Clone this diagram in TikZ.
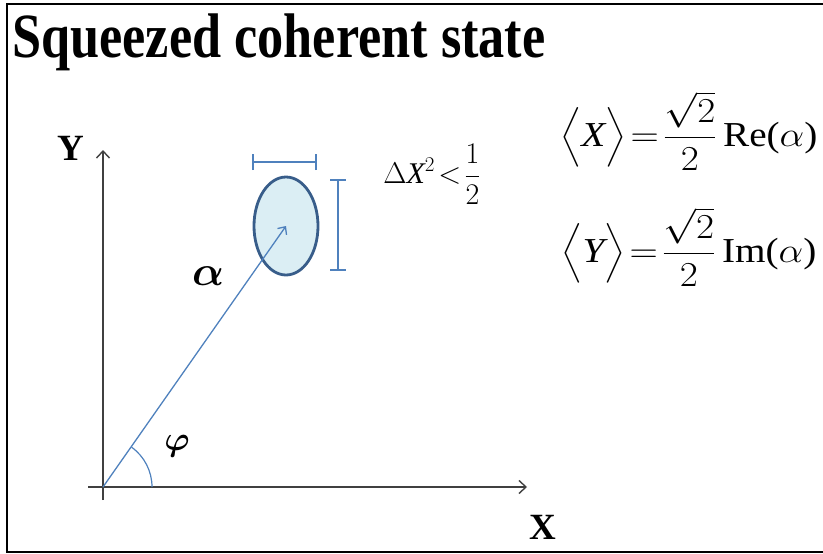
\documentclass[tikz,border=0pt]{standalone}
\usepackage{fix-cm}
\usepackage{fontspec}
\usepackage{amsmath}
\usepackage{bm}
\usepackage{graphicx}
\setmainfont{Liberation Serif}
\usetikzlibrary{arrows.meta,shapes.geometric}

\begin{document}
\begin{tikzpicture}[x=1pt, y=-1pt,
  % ---- colours ---------------------------------------------------------
  /utils/exec={%
    \definecolor{axgrey}  {RGB}{ 64, 64, 64}%
    \definecolor{vecblue} {RGB}{ 79,129,189}%
    \definecolor{ringblue}{RGB}{ 56, 93,138}%
    \definecolor{fogblue} {RGB}{219,238,244}%
  },
  % ---- styles ----------------------------------------------------------
  axis/.style={draw=axgrey, line width=1.4pt, -{Straight Barb[length=7pt,width=13pt]}},
  vec/.style={draw=vecblue, line width=1.3pt, -{Straight Barb[length=6pt,width=11pt]}},
  bar/.style={draw=vecblue, line width=1.2pt},
  axlbl/.style={font=\fontsize{37}{40}\selectfont\bfseries, inner sep=0pt},
  sym/.style={font=\fontsize{42}{46}\selectfont, inner sep=0pt},
  eqn/.style={font=\fontsize{35}{38}\selectfont, inner sep=0pt},
]
\useasboundingbox (0,0) rectangle (823,554);

% frame (open on the right)
\draw[line width=2.6pt] (823,4) -- (7,4) -- (7,552) -- (823,552);

% title
\node[anchor=base west, inner sep=0pt] (title) at (12,57)
  {\scalebox{0.83}[1]{\fontsize{63}{66}\selectfont\bfseries Squeezed coherent state}};

% =====================================================================
%  AXES
% =====================================================================
\coordinate (o) at (103,487);
\coordinate (xstart) at (88,487);
\coordinate (xend) at (527,487);
\coordinate (ystart) at (103,500);
\coordinate (yend) at (103,150);
\draw[axis] (xstart) -- (xend);
\draw[axis] (ystart) -- (yend);
\node[axlbl] (xlbl) at (543,527) {X};
\node[axlbl] (ylbl) at (71,148) {Y};

% =====================================================================
%  STATE
% =====================================================================
\node[ellipse, draw=ringblue, fill=fogblue, line width=2.8pt,
      minimum width=64pt, minimum height=98pt, inner sep=0pt] (blob) at (286,226) {};
\draw[vec] (o) -- (blob.center);
\node[sym] (alpha) at (208,276) {$\bm{\alpha}$};

% angle phi
\draw[vecblue, line width=1.2pt] ([xshift=49pt]o) arc[start angle=0, end angle=54.4, radius=49pt];
\node[sym, font=\fontsize{34}{38}\selectfont] (phi) at (177,446) {$\bm{\varphi}$};

% uncertainty bars
\coordinate (hbl) at (253,162);
\coordinate (hbr) at (316,162);
\coordinate (vbt) at (338,180);
\coordinate (vbb) at (338,270);
\draw[bar] (hbl) -- (hbr);
\draw[bar] ([yshift=-8pt]hbl) -- ([yshift=8pt]hbl);
\draw[bar] ([yshift=-8pt]hbr) -- ([yshift=8pt]hbr);
\draw[bar] (vbt) -- (vbb);
\draw[bar] ([xshift=-8pt]vbt) -- ([xshift=8pt]vbt);
\draw[bar] ([xshift=-8pt]vbb) -- ([xshift=8pt]vbb);

% =====================================================================
%  FORMULAS
% =====================================================================
\node[eqn, font=\fontsize{30}{33}\selectfont] (dx) at (432,174)
  {$\Delta\textit{X}^{2}\!<\!\dfrac{1}{2}$};
\node[eqn] (meanx) at (689,131)
  {\scalebox{1.12}[1]{$\Bigl\langle\textit{X}\Bigr\rangle\!=\!\dfrac{\sqrt{2}}{2}\,\text{Re(}\alpha\text{)}$}};
\node[eqn] (meany) at (689,247)
  {\scalebox{1.12}[1]{$\Bigl\langle\textit{Y}\Bigr\rangle\!=\!\dfrac{\sqrt{2}}{2}\,\text{Im(}\alpha\text{)}$}};

\end{tikzpicture}
\end{document}
